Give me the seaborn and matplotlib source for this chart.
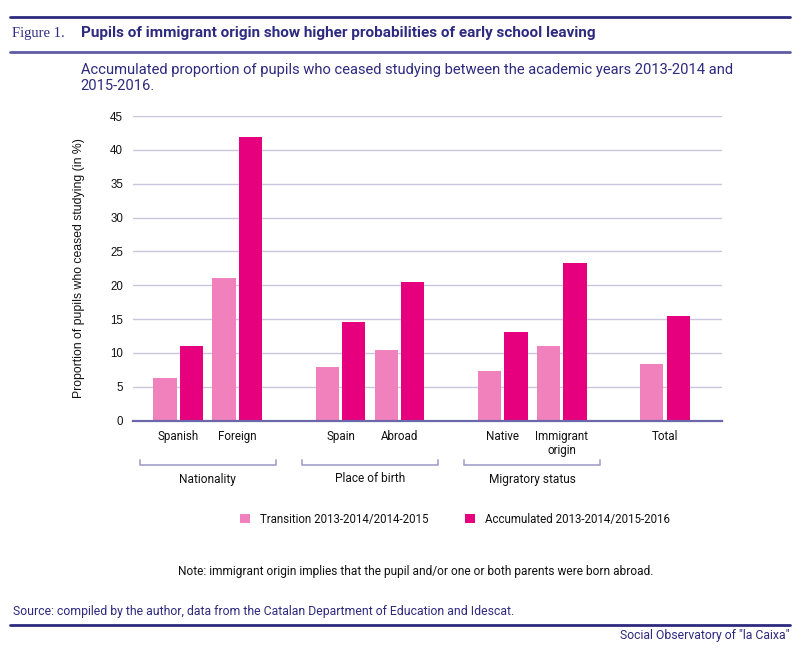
import matplotlib
matplotlib.use("Agg")
import matplotlib.pyplot as plt
from matplotlib.lines import Line2D
from matplotlib.transforms import blended_transform_factory
import seaborn as sns
import pandas as pd

# ---- data ----
categories = ["Spanish", "Foreign", "Spain", "Abroad", "Native", "Immigrant\norigin", "Total"]
positions = [0, 1, 2.75, 3.75, 5.5, 6.5, 8.25]
transition = [6.3, 21.1, 8.0, 10.5, 7.4, 11.0, 8.4]
accumulated = [11.0, 41.9, 14.6, 20.5, 13.1, 23.3, 15.5]
series_names = ["Transition 2013-2014/2014-2015", "Accumulated 2013-2014/2015-2016"]
groups = ["Nationality", "Place of birth", "Migratory status"]
group_members = [(0, 1), (2, 3), (4, 5)]
yticks = [0, 5, 10, 15, 20, 25, 30, 35, 40, 45]

df = pd.DataFrame({
    "pos": positions * 2,
    "value": transition + accumulated,
    "series": [series_names[0]] * len(positions) + [series_names[1]] * len(positions),
})

NAVY = "#2D2A7F"
LIGHT = "#F081BC"
DARK = "#E6007E"
GRID = "#CAC6E0"

sns.set_theme(style="white")
plt.rcParams["font.family"] = ["Roboto", "DejaVu Sans"]

fig = plt.figure(figsize=(8, 6.5), dpi=100)
ax = fig.add_axes([0.166, 0.3528, 0.736, 0.4687])

sns.barplot(data=df, x="pos", y="value", hue="series", native_scale=True,
            palette=[LIGHT, DARK], saturation=1, width=0.9, gap=0.13, errorbar=None,
            linewidth=0, ax=ax, zorder=3)

ax.set_xlim(-0.77, 9.21)
ax.set_ylim(0, 45)
ax.set_yticks(yticks)
ax.set_yticklabels([str(t) for t in yticks], family="Liberation Sans", fontsize=8.3, color="#111111")
ax.set_xticks(positions)
ax.set_xticklabels(categories, fontsize=8.4, color="#111111", linespacing=1.15, va="top")
ax.tick_params(axis="x", length=0, pad=6.5)
ax.tick_params(axis="y", length=0, pad=7)
ax.grid(axis="y", color=GRID, linewidth=1, zorder=0)
ax.set_axisbelow(True)
for s in ["top", "right", "left"]:
    ax.spines[s].set_visible(False)
ax.spines["bottom"].set_color("#6C67AB")
ax.spines["bottom"].set_linewidth(1.6)
ax.spines["bottom"].set_zorder(5)
ax.set_xlabel("")
ax.set_ylabel("Proportion of pupils who ceased studying (in %)", family="Liberation Sans",
              fontsize=8.8, color="#111111")
ax.yaxis.set_label_coords(-0.081, 0.5)

# group brackets
tr = blended_transform_factory(ax.transData, fig.transFigure)
y_line = 1 - 465 / 650
y_tick = 1 - 460 / 650
y_glab = 1 - 479 / 650
half = 1.15
for g, (a, b) in zip(groups, group_members):
    c = (positions[a] + positions[b]) / 2
    ax.add_artist(Line2D([c - half, c - half, c + half, c + half], [y_tick, y_line, y_line, y_tick],
                         transform=tr, color="#A29FCB", linewidth=1.2, clip_on=False))
    ax.text(c, y_glab, g, transform=tr, ha="center", va="center", fontsize=8.6, color="#111111")

# legend
handles, labels = ax.get_legend_handles_labels()
if ax.legend_:
    ax.legend_.remove()
fig.legend(handles, labels, loc="center", bbox_to_anchor=(0.569, 1 - 519 / 650),
           ncol=2, frameon=False, fontsize=8.3, handlelength=0.87, handleheight=0.87,
           columnspacing=3.2, handletextpad=0.87, labelcolor="#111111")

# header
fig.add_artist(Line2D([0.012, 0.988], [1 - 17 / 650] * 2, color=NAVY, linewidth=2))
fig.add_artist(Line2D([0.012, 0.988], [1 - 52 / 650] * 2, color="#5F5BA3", linewidth=2))
fig.text(0.015, 1 - 33 / 650, "Figure 1.", family="Liberation Serif", fontsize=10.5,
         color=NAVY, va="center", ha="left")
fig.text(0.101, 1 - 33 / 650, "Pupils of immigrant origin show higher probabilities of early school leaving",
         fontsize=11, fontweight="bold", color=NAVY, va="center", ha="left")
fig.text(0.101, 1 - 78 / 650,
         "Accumulated proportion of pupils who ceased studying between the academic years 2013-2014 and\n2015-2016.",
         fontsize=10.65, color=NAVY, va="center", ha="left", linespacing=1.2)

# footer
fig.text(0.52, 1 - 571 / 650,
         "Note: immigrant origin implies that the pupil and/or one or both parents were born abroad.",
         fontsize=8.6, color="#111111", ha="center", va="center")
fig.text(0.016, 1 - 612 / 650,
         "Source: compiled by the author, data from the Catalan Department of Education and Idescat.",
         fontsize=8.85, color=NAVY, ha="left", va="center")
fig.add_artist(Line2D([0.012, 0.988], [1 - 625 / 650] * 2, color=NAVY, linewidth=2))
fig.text(0.987, 1 - 635 / 650, "Social Observatory of \"la Caixa\"",
         fontsize=8.8, color=NAVY, ha="right", va="center")

fig.savefig("out.png", dpi=100)
